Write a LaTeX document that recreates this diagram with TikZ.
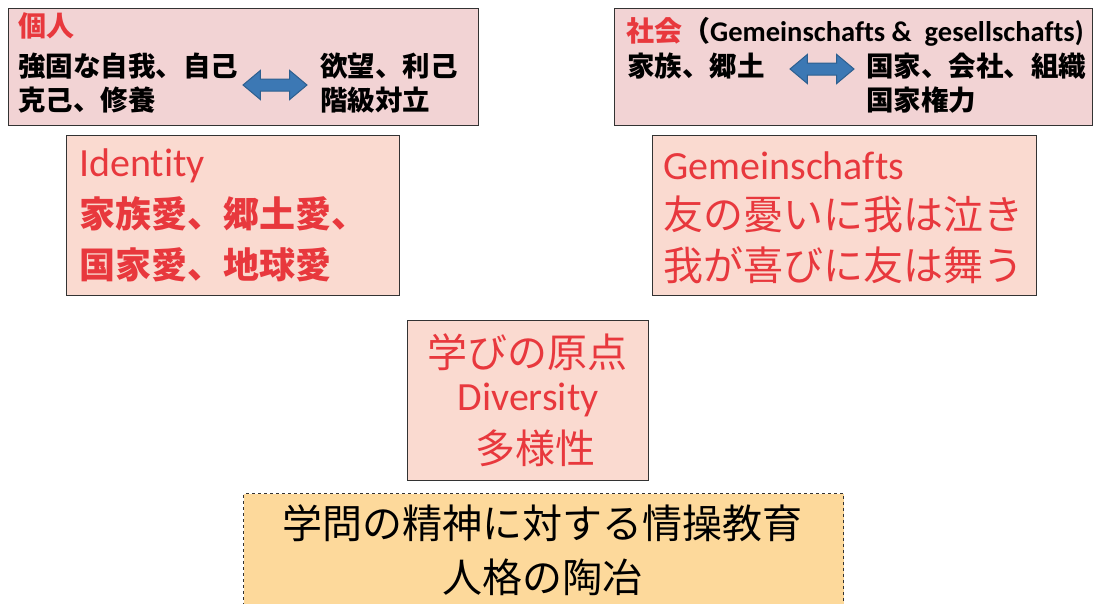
\documentclass[tikz,border=0pt]{standalone}
\usepackage{fontspec}
\setmainfont{Carlito}[Ligatures={NoCommon}]
\newfontfamily\cjk{Noto Sans CJK JP}
\usetikzlibrary{shapes.arrows}
\definecolor{pinkA}{HTML}{F2D3D4}
\definecolor{pinkB}{HTML}{FADAD0}
\definecolor{goldA}{HTML}{FDD99B}
\definecolor{redT}{HTML}{E8383D}
\definecolor{blueA}{HTML}{3C78B4}
\definecolor{blueB}{HTML}{2D5F8F}
\definecolor{edgeC}{HTML}{333333}
\tikzset{
  panel/.style={draw=edgeC, line width=1.4pt, anchor=north west, inner sep=0pt},
  txt/.style={anchor=west, inner sep=0pt},
  ctxt/.style={anchor=center, inner sep=0pt},
  dbl/.style={shape=double arrow, fill=blueA, draw=blueB, line width=1pt, inner sep=5.5pt,
    double arrow head extend=8.5pt, minimum height=64pt, double arrow head indent=0pt,
    double arrow tip angle=80},
}
\begin{document}
\begin{tikzpicture}[x=1pt,y=-1pt]
\useasboundingbox (0,0) rectangle (1095,603);
\fill[white] (0,0) rectangle (1095,603);
% panels
\node[panel, fill=pinkA, minimum width=470pt, minimum height=117pt] (b1) at (8,8) {};
\node[panel, fill=pinkA, minimum width=478pt, minimum height=117pt] (b2) at (614,8) {};
\node[panel, fill=pinkB, minimum width=333pt, minimum height=160pt] (b3) at (66,135) {};
\node[panel, fill=pinkB, minimum width=384pt, minimum height=160pt] (b4) at (652,135) {};
\node[panel, fill=pinkB, minimum width=241pt, minimum height=160pt] (b5) at (407,320) {};
\node[panel, fill=goldA, dashed, line width=1pt, minimum width=600pt, minimum height=125pt] (b6) at (243,493) {};
% box 1
\node[txt, text=redT, font=\cjk\bfseries\fontsize{28}{30}\selectfont] (t11) at (18,26) {個人};
\node[txt, font=\cjk\bfseries\fontsize{27.5}{30}\selectfont] (t12) at (18,66) {強固な自我、自己};
\node[txt, font=\cjk\bfseries\fontsize{27.5}{30}\selectfont] (t13) at (18,100) {克己、修養};
\node[txt, font=\cjk\bfseries\fontsize{27.5}{30}\selectfont] (t14) at (320,66) {欲望、利己};
\node[txt, font=\cjk\bfseries\fontsize{27.5}{30}\selectfont] (t15) at (320,100) {階級対立};
\node[dbl] (a1) at (275,85) {};
% box 2
\node[txt, font=\bfseries\fontsize{28.5}{30}\selectfont] (t21) at (626,32) {{\cjk\fontsize{28}{30}\selectfont\color{redT}社会}{\cjk\fontsize{28}{30}\selectfont（}Gemeinschafts \&\ \ gesellschafts)};
\node[txt, font=\cjk\bfseries\fontsize{27.5}{30}\selectfont] (t22) at (627,66) {家族、郷土};
\node[txt, font=\cjk\bfseries\fontsize{27.5}{30}\selectfont] (t23) at (866,66) {国家、会社、組織};
\node[txt, font=\cjk\bfseries\fontsize{27.5}{30}\selectfont] (t24) at (866,100) {国家権力};
\node[dbl] (a2) at (822,69) {};
% box 3
\node[txt, text=redT, font=\fontsize{40}{44}\selectfont] (t31) at (79,166) {Identity};
\node[txt, text=redT, font=\cjk\bfseries\fontsize{36}{40}\selectfont] (t32) at (79,214) {家族愛、郷土愛、};
\node[txt, text=redT, font=\cjk\bfseries\fontsize{36}{40}\selectfont] (t33) at (79,265) {国家愛、地球愛};
% box 4
\node[txt, text=redT, font=\fontsize{40}{44}\selectfont] (t41) at (663,166) {Gemeinschafts};
\node[txt, text=redT, font=\cjk\fontsize{40}{44}\selectfont] (t42) at (663,214) {友の憂いに我は泣き};
\node[txt, text=redT, font=\cjk\fontsize{40}{44}\selectfont] (t43) at (663,265) {我が喜びに友は舞う};
% box 5
\node[ctxt, text=redT, font=\cjk\fontsize{40}{44}\selectfont] (t51) at (527,352) {学びの原点};
\node[ctxt, text=redT, font=\fontsize{40}{44}\selectfont] (t52) at (528,400) {Diversity};
\node[ctxt, text=redT, font=\cjk\fontsize{40}{44}\selectfont] (t53) at (535,448) {多様性};
% box 6
\node[ctxt, font=\cjk\fontsize{40}{44}\selectfont] (t61) at (542,523) {学問の精神に対する情操教育};
\node[ctxt, font=\cjk\fontsize{40}{44}\selectfont] (t62) at (542,577) {人格の陶冶};
\end{tikzpicture}
\end{document}
